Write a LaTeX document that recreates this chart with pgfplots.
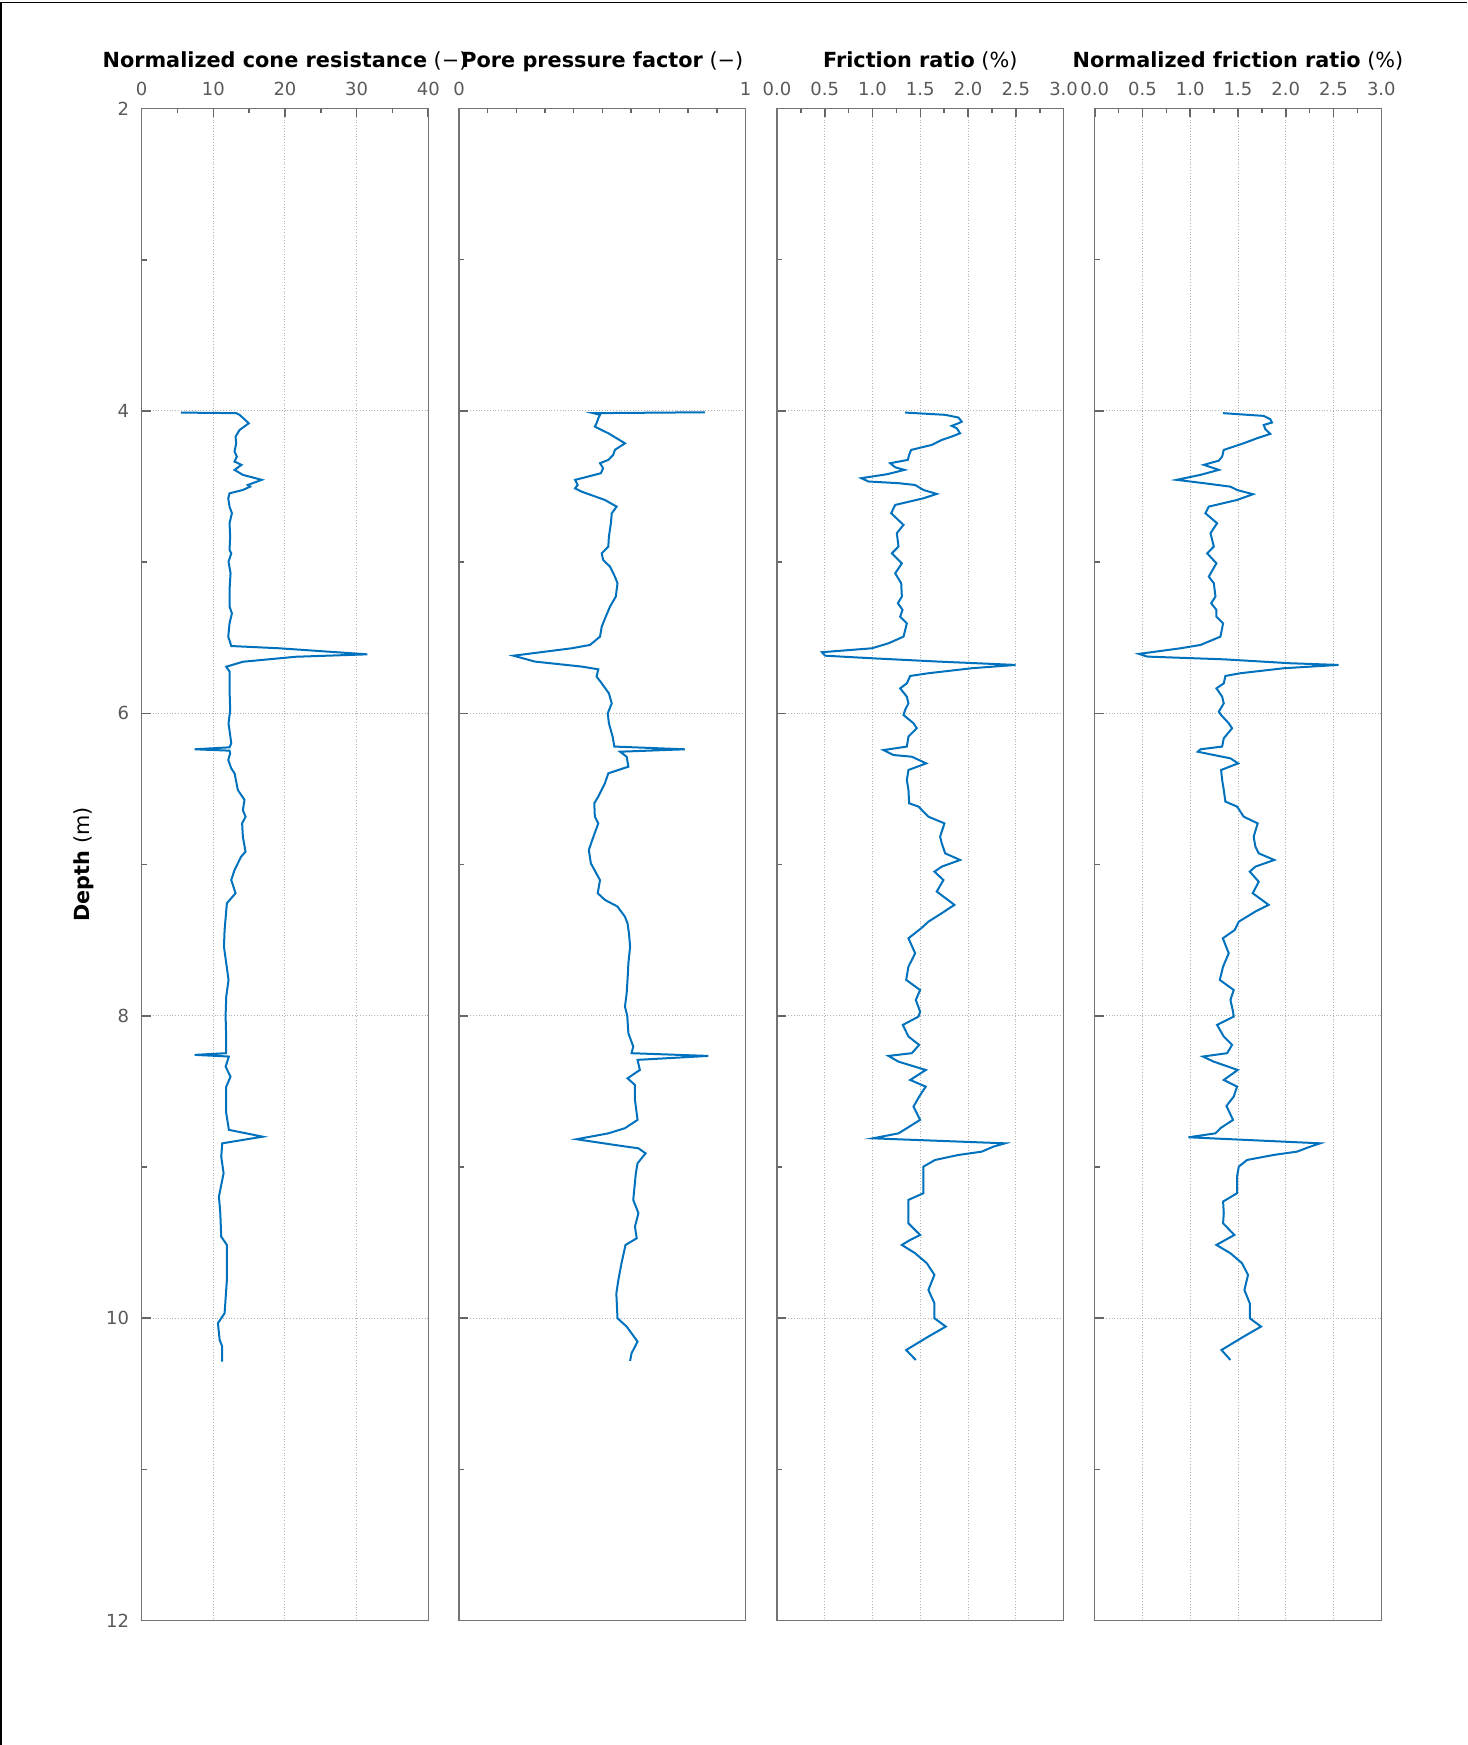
\documentclass[border=0pt]{standalone}
\usepackage{fontspec}
\setmainfont{DejaVu Sans}
\usepackage{pgfplots}
\pgfplotsset{compat=1.18}
\definecolor{mblue}{RGB}{0,114,189}
\pgfplotsset{
  panel/.style={
    scale only axis, width=143.3pt, height=756pt, anchor=south west,
    y dir=reverse, ymin=2, ymax=12,
    ytick={2,4,...,12}, minor ytick={3,5,...,11},
    ytick pos=left, xtick pos=upper, xticklabel pos=upper,
    tick align=inside,
    major tick length=4.5pt, minor tick length=2.5pt,
    ymajorgrids, xmajorgrids,
    grid style={densely dotted, line width=0.5pt, black!30},
    axis line style={black!55, line width=0.6pt},
    tick style={black!60, line width=0.8pt},
    tick label style={font=\fontsize{9}{10}\selectfont, text=black!65},
    /pgf/number format/assume math mode=true,
    xticklabel style={anchor=base, yshift=6.4pt},
    yticklabel style={xshift=-2.8pt},
    every axis title shift=0pt,
    title style={at={(axis description cs:0.5,1)}, anchor=base, yshift=20.3pt, font=\fontsize{10.4}{12}\selectfont},
  },
  rpanel/.style={panel, xmin=0, xmax=3, xtick={0,0.5,...,3}, minor xtick={0.25,0.75,...,2.75},
    xticklabel style={/pgf/number format/.cd, fixed, fixed zerofill, precision=1}, yticklabel=\empty},
}
\begin{document}
\begin{tikzpicture}
\useasboundingbox (0,0) rectangle (733.5pt,872.5pt);
\draw[line width=0.6pt] (0.5pt,0) -- (0.5pt,871.2pt) -- (733.5pt,871.2pt);

% Panel 1
\begin{axis}[panel, at={(70.85pt,62.25pt)},
  xmin=0, xmax=40, xtick={0,10,...,40}, minor xtick={5,15,25,35},
  title={\textbf{Normalized cone resistance} (−)},
  ylabel={\textbf{Depth} (m)},
  ylabel style={at={(axis description cs:-0.203,0.5)}, anchor=center, font=\fontsize{10.4}{12}\selectfont}]
\addplot[mblue, line width=1pt] coordinates {
(5.46,4.011) (13.19,4.015) (13.66,4.026) (14.95,4.082) (13.66,4.126) (13.10,4.170) (13.19,4.214) (12.96,4.269) (13.28,4.302) (12.96,4.335) (13.93,4.357) (12.96,4.390) (14.12,4.423) (16.75,4.456) (14.81,4.490) (15.13,4.501) (14.12,4.523) (12.26,4.545) (12.08,4.578) (12.26,4.633) (12.59,4.677) (12.26,4.743) (12.35,4.831) (12.26,4.920) (12.50,4.942) (12.12,4.997) (12.40,5.074) (12.26,5.184) (12.26,5.294) (12.59,5.339) (12.26,5.405) (12.08,5.493) (12.50,5.555) (19.21,5.570) (31.48,5.610) (21.52,5.626) (14.12,5.659) (11.80,5.692) (12.26,5.724) (12.26,5.846) (12.35,5.978) (12.12,6.066) (12.50,6.198) (12.26,6.225) (7.40,6.238) (12.26,6.247) (12.35,6.265) (12.08,6.309) (12.50,6.364) (12.96,6.397) (13.42,6.507) (14.35,6.573) (14.12,6.640) (14.49,6.684) (14.02,6.728) (14.12,6.816) (14.49,6.915) (13.88,6.948) (12.96,7.036) (12.50,7.102) (13.10,7.190) (11.89,7.256) (11.57,7.433) (11.48,7.543) (12.12,7.763) (11.80,7.874) (11.71,8.001) (11.80,8.160) (11.80,8.248) (7.40,8.259) (12.17,8.270) (11.71,8.337) (12.40,8.403) (11.80,8.469) (11.80,8.645) (12.17,8.755) (16.89,8.800) (11.24,8.844) (11.10,8.932) (11.43,9.042) (10.78,9.196) (10.97,9.306) (11.10,9.461) (11.89,9.516) (11.89,9.748) (11.57,9.968) (10.64,10.034) (10.88,10.144) (11.24,10.188) (11.24,10.288)
};
\end{axis}

% Panel 2
\begin{axis}[panel, at={(229.5pt,62.25pt)},
  xmin=0, xmax=1, xtick={0,1}, minor xtick={0.1,0.2,...,0.9}, yticklabel=\empty,
  title={\textbf{Pore pressure factor} (−)}]
\addplot[mblue, line width=1pt] coordinates {
(0.858,4.009) (0.469,4.015) (0.492,4.026) (0.486,4.049) (0.480,4.082) (0.474,4.104) (0.521,4.148) (0.579,4.214) (0.544,4.258) (0.538,4.291) (0.521,4.324) (0.492,4.346) (0.503,4.379) (0.495,4.412) (0.451,4.434) (0.405,4.456) (0.414,4.490) (0.405,4.512) (0.428,4.534) (0.509,4.589) (0.550,4.633) (0.533,4.677) (0.530,4.743) (0.523,4.831) (0.521,4.897) (0.498,4.942) (0.503,4.986) (0.527,5.030) (0.544,5.096) (0.553,5.140) (0.547,5.228) (0.527,5.294) (0.512,5.361) (0.498,5.427) (0.492,5.493) (0.457,5.548) (0.393,5.570) (0.190,5.619) (0.265,5.658) (0.428,5.691) (0.486,5.709) (0.480,5.757) (0.498,5.802) (0.523,5.868) (0.533,5.934) (0.519,6.000) (0.523,6.066) (0.536,6.154) (0.542,6.220) (0.788,6.238) (0.562,6.254) (0.585,6.287) (0.591,6.353) (0.521,6.397) (0.509,6.463) (0.486,6.551) (0.472,6.595) (0.474,6.684) (0.486,6.728) (0.469,6.816) (0.453,6.904) (0.460,6.992) (0.492,7.103) (0.484,7.190) (0.509,7.234) (0.553,7.278) (0.579,7.345) (0.588,7.389) (0.593,7.455) (0.597,7.543) (0.591,7.653) (0.588,7.763) (0.585,7.852) (0.579,7.940) (0.587,8.001) (0.591,8.116) (0.608,8.204) (0.602,8.248) (0.870,8.266) (0.623,8.292) (0.631,8.359) (0.588,8.414) (0.614,8.458) (0.614,8.557) (0.623,8.689) (0.579,8.744) (0.521,8.778) (0.410,8.817) (0.544,8.855) (0.626,8.877) (0.651,8.910) (0.623,8.976) (0.617,9.042) (0.608,9.218) (0.626,9.306) (0.614,9.395) (0.620,9.472) (0.581,9.516) (0.567,9.637) (0.556,9.748) (0.549,9.836) (0.553,10.001) (0.585,10.056) (0.623,10.155) (0.602,10.233) (0.597,10.283)
};
\end{axis}

% Panel 3
\begin{axis}[rpanel, at={(388.5pt,62.25pt)},
  title={\textbf{Friction ratio} (\%)}]
\addplot[mblue, line width=1pt] coordinates {
(1.341,4.011) (1.760,4.026) (1.899,4.044) (1.934,4.071) (1.899,4.082) (1.829,4.099) (1.882,4.115) (1.916,4.148) (1.829,4.170) (1.725,4.192) (1.620,4.225) (1.404,4.258) (1.383,4.291) (1.369,4.324) (1.185,4.346) (1.237,4.373) (1.334,4.390) (1.150,4.419) (0.882,4.445) (0.958,4.467) (1.272,4.478) (1.446,4.490) (1.533,4.523) (1.672,4.549) (1.533,4.578) (1.237,4.622) (1.195,4.677) (1.324,4.754) (1.254,4.809) (1.272,4.897) (1.202,4.942) (1.307,5.008) (1.237,5.074) (1.300,5.140) (1.307,5.228) (1.265,5.272) (1.314,5.316) (1.289,5.361) (1.359,5.405) (1.324,5.493) (1.167,5.537) (0.993,5.570) (0.470,5.596) (0.505,5.619) (0.993,5.636) (1.690,5.658) (2.498,5.680) (2.038,5.702) (1.585,5.735) (1.394,5.753) (1.359,5.802) (1.289,5.835) (1.359,5.890) (1.376,5.934) (1.341,5.978) (1.324,6.011) (1.429,6.066) (1.463,6.099) (1.376,6.154) (1.359,6.220) (1.115,6.243) (1.220,6.276) (1.411,6.287) (1.561,6.331) (1.376,6.375) (1.359,6.441) (1.376,6.507) (1.383,6.595) (1.481,6.617) (1.585,6.684) (1.753,6.728) (1.707,6.816) (1.725,6.860) (1.760,6.926) (1.916,6.970) (1.725,7.014) (1.648,7.047) (1.742,7.103) (1.672,7.179) (1.857,7.267) (1.725,7.322) (1.585,7.378) (1.509,7.422) (1.376,7.488) (1.446,7.587) (1.376,7.675) (1.352,7.763) (1.498,7.830) (1.453,7.896) (1.498,7.973) (1.481,8.006) (1.317,8.061) (1.376,8.138) (1.488,8.193) (1.411,8.248) (1.167,8.266) (1.272,8.304) (1.557,8.359) (1.394,8.425) (1.557,8.469) (1.488,8.535) (1.429,8.601) (1.498,8.689) (1.359,8.744) (1.272,8.778) (1.003,8.811) (2.387,8.844) (2.265,8.866) (2.143,8.899) (1.899,8.921) (1.655,8.954) (1.533,8.998) (1.533,9.064) (1.533,9.174) (1.376,9.218) (1.376,9.306) (1.376,9.373) (1.498,9.450) (1.394,9.483) (1.307,9.516) (1.446,9.571) (1.568,9.637) (1.648,9.714) (1.585,9.814) (1.648,9.902) (1.648,10.001) (1.767,10.056) (1.585,10.122) (1.352,10.211) (1.453,10.277)
};
\end{axis}

% Panel 4
\begin{axis}[rpanel, at={(547.35pt,62.25pt)},
  title={\textbf{Normalized friction ratio} (\%)}]
\addplot[mblue, line width=1pt] coordinates {
(1.344,4.015) (1.769,4.033) (1.838,4.055) (1.856,4.077) (1.769,4.093) (1.786,4.121) (1.838,4.152) (1.699,4.181) (1.560,4.214) (1.351,4.258) (1.334,4.302) (1.299,4.329) (1.142,4.357) (1.299,4.390) (1.107,4.423) (0.857,4.456) (1.142,4.478) (1.421,4.501) (1.490,4.523) (1.657,4.551) (1.490,4.589) (1.194,4.633) (1.159,4.677) (1.281,4.743) (1.212,4.809) (1.247,4.897) (1.177,4.942) (1.274,5.008) (1.194,5.096) (1.247,5.140) (1.264,5.228) (1.219,5.272) (1.274,5.316) (1.274,5.361) (1.344,5.405) (1.316,5.493) (1.107,5.548) (0.898,5.570) (0.463,5.607) (0.550,5.625) (1.351,5.643) (2.047,5.669) (2.552,5.680) (1.978,5.702) (1.525,5.735) (1.368,5.753) (1.351,5.802) (1.274,5.835) (1.334,5.890) (1.351,5.934) (1.299,5.989) (1.323,6.011) (1.403,6.066) (1.438,6.099) (1.351,6.165) (1.334,6.220) (1.107,6.238) (1.079,6.254) (1.247,6.276) (1.421,6.298) (1.501,6.331) (1.323,6.375) (1.334,6.441) (1.351,6.507) (1.368,6.584) (1.490,6.617) (1.560,6.684) (1.706,6.728) (1.664,6.816) (1.682,6.882) (1.717,6.926) (1.880,6.970) (1.682,7.014) (1.623,7.047) (1.717,7.114) (1.654,7.190) (1.821,7.267) (1.682,7.311) (1.508,7.378) (1.466,7.433) (1.341,7.488) (1.403,7.587) (1.344,7.675) (1.309,7.763) (1.455,7.830) (1.421,7.896) (1.448,7.973) (1.455,8.006) (1.281,8.061) (1.351,8.138) (1.438,8.193) (1.386,8.248) (1.132,8.270) (1.247,8.304) (1.497,8.359) (1.351,8.425) (1.490,8.469) (1.455,8.535) (1.379,8.597) (1.448,8.689) (1.316,8.744) (1.264,8.778) (0.982,8.804) (2.361,8.844) (2.256,8.866) (2.117,8.899) (1.873,8.921) (1.595,8.954) (1.508,8.998) (1.490,9.064) (1.490,9.174) (1.344,9.229) (1.351,9.306) (1.344,9.373) (1.462,9.450) (1.368,9.483) (1.274,9.516) (1.421,9.571) (1.542,9.637) (1.605,9.714) (1.567,9.814) (1.623,9.902) (1.623,10.001) (1.741,10.056) (1.560,10.122) (1.327,10.211) (1.421,10.277)
};
\end{axis}
\end{tikzpicture}
\end{document}
